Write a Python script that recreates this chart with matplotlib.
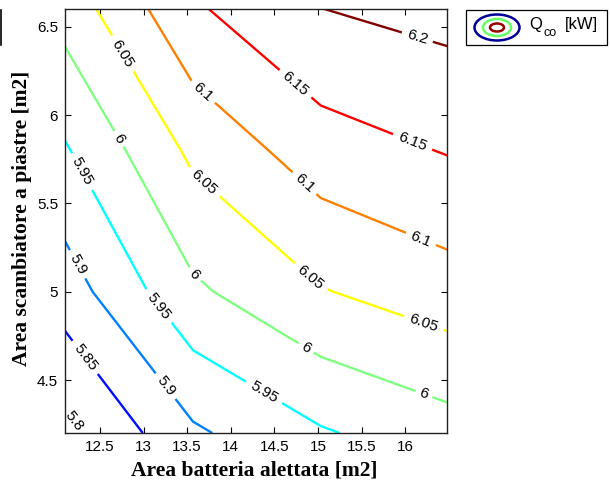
import numpy as np
import matplotlib
matplotlib.use("Agg")
import matplotlib.pyplot as plt
from matplotlib.patches import Ellipse, Rectangle
from matplotlib.lines import Line2D

# Grid of the two exchanger areas and the resulting condenser power
area_batteria = [12.1, 13.567, 15.033, 16.5]          # [m2]
area_scambiatore = [4.2, 5.0, 5.8, 6.6]               # [m2]
q_co = [
    [5.785, 5.892, 5.945, 5.979],
    [5.875, 5.991, 6.047, 6.078],
    [5.945, 6.061, 6.127, 6.153],
    [6.020, 6.143, 6.1995, 6.217],
]                                                     # [kW]

levels = [5.80, 5.85, 5.90, 5.95, 6.00, 6.05, 6.10, 6.15, 6.20]
level_colors = [
    (0.0, 0.0, 0.56), (0.0, 0.06, 1.0), (0.0, 0.5, 1.0), (0.0, 1.0, 1.0),
    (0.5, 1.0, 0.5), (1.0, 1.0, 0.0), (1.0, 0.5, 0.0), (1.0, 0.0, 0.0),
    (0.5, 0.0, 0.0),
]

# Positions of the inline labels along the isolines
label_pos = [
    (12.73, 6.34), (13.68, 6.13), (14.73, 6.17), (16.13, 6.425),
    (16.07, 5.83), (14.83, 5.606), (12.70, 5.86), (12.27, 5.673),
    (13.67, 5.606), (16.17, 5.284), (14.87, 5.058), (16.20, 4.80),
    (13.57, 5.09), (14.85, 4.67), (16.20, 4.40), (12.24, 5.154),
    (13.17, 4.917), (12.33, 4.628), (13.25, 4.464), (14.37, 4.42),
    (12.19, 4.267),
]

sans = "Liberation Sans"
serif = "Liberation Serif"

fig = plt.figure(figsize=(6.10, 4.86), dpi=100)
ax = fig.add_axes([0.1066, 0.109, 0.6262, 0.8724])

X, Y = np.meshgrid(area_batteria, area_scambiatore)
Z = np.array(q_co)
cs = ax.contour(X, Y, Z, levels=levels, colors=level_colors, linewidths=1.7)
labels = ax.clabel(cs, fmt="%g", inline=True, inline_spacing=4,
                   fontsize=11, manual=label_pos)
for t in labels:
    t.set_fontfamily(sans)
    t.set_color("black")

ax.set_xlim(12.1, 16.48)
ax.set_ylim(4.2, 6.6)
ax.set_xticks([12.5, 13, 13.5, 14, 14.5, 15, 15.5, 16])
ax.set_xticklabels(["12.5", "13", "13.5", "14", "14.5", "15", "15.5", "16"])
ax.set_yticks([4.5, 5, 5.5, 6, 6.5])
ax.set_yticklabels(["4.5", "5", "5.5", "6", "6.5"])
ax.tick_params(direction="in", length=4, width=0.8, top=True, right=True,
               labelsize=11, colors="black", pad=5)
for lab in ax.get_xticklabels() + ax.get_yticklabels():
    lab.set_fontfamily(sans)
for sp in ax.spines.values():
    sp.set_linewidth(1.0)
    sp.set_color("#222222")

fig.text(254 / 610, 1 - 470 / 486, "Area batteria alettata [m2]",
         ha="center", va="center", fontsize=15.5, fontweight="bold",
         family=serif)
fig.text(22 / 610, 1 - 218 / 486, "Area scambiatore a piastre [m2]",
         ha="center", va="center", rotation=90, fontsize=15.5,
         fontweight="bold", family=serif)

# Legend box with the concentric-isoline icon
W, H = 610.0, 486.0
def fx(px):
    return px / W
def fy(py):
    return 1 - py / H

fig.patches.append(Rectangle((fx(466), fy(45)), 141 / W, 35 / H,
                             transform=fig.transFigure, fill=True,
                             facecolor="white", edgecolor="black",
                             linewidth=0.9))
cx, cy = 497, 27.5
for w, h, c in [(45, 26, (0.0, 0.0, 0.6)), (28, 17, (0.4, 1.0, 0.4)),
                (14, 8, (0.6, 0.0, 0.0))]:
    fig.patches.append(Ellipse((fx(cx), fy(cy)), w / W, h / H,
                               transform=fig.transFigure, fill=False,
                               edgecolor=c, linewidth=1.8))
fig.text(fx(529), fy(25), "Q", fontsize=12, family=sans,
         ha="left", va="center")
fig.text(fx(543), fy(33), "co", fontsize=9, family=sans,
         ha="left", va="center")
fig.text(fx(565), fy(25), "[kW]", fontsize=12, family=sans,
         ha="left", va="center")

fig.lines.append(Line2D([fx(1), fx(1)], [fy(10), fy(45)],
                        transform=fig.transFigure, color="black",
                        linewidth=1.2))

fig.savefig("out.png", dpi=100)
